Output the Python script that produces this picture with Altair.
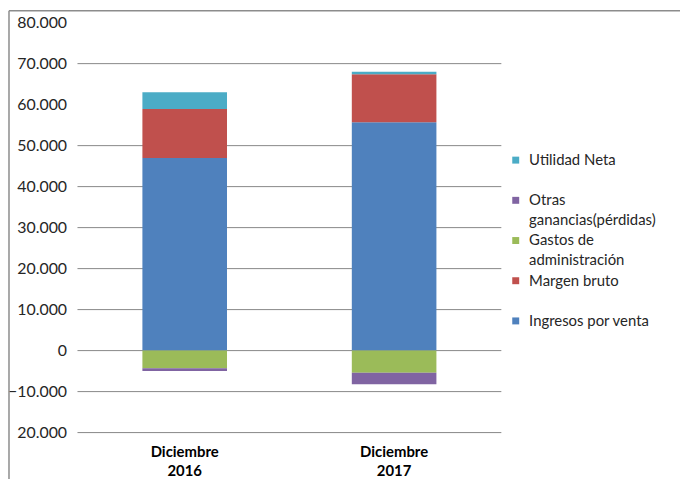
import altair as alt
import pandas as pd

periods = ["Diciembre 2016", "Diciembre 2017"]
series = ["Ingresos por venta", "Margen bruto", "Gastos de administración",
          "Otras ganancias(pérdidas)", "Utilidad Neta"]
ingresos = [47000, 55700]
margen = [11950, 11700]
gastos = [-4300, -5400]
otras = [-700, -2800]
utilidad = [4050, 650]
series_colors = ["#4F81BD", "#C0504D", "#9BBB59", "#8064A2", "#4BACC6"]
legend_order = ["Utilidad Neta", "Otras ganancias(pérdidas)", "Gastos de administración",
                "Margen bruto", "Ingresos por venta"]
y_ticks = [-20000, -10000, 0, 10000, 20000, 30000, 40000, 50000, 60000, 70000, 80000]
grid_values = [-20000, -10000, 0, 10000, 20000, 30000, 40000, 50000, 70000]

values_by_series = [ingresos, margen, gastos, otras, utilidad]
rows = []
for si, (name, vals) in enumerate(zip(series, values_by_series)):
    for p, v in zip(periods, vals):
        rows.append({"periodo": p, "serie": name, "valor": v, "orden": si})
df = pd.DataFrame(rows)
color_map = dict(zip(series, series_colors))

FONT = "Lato"
TXT = "#262626"
GRID = "#878787"

y_scale = alt.Scale(domain=[-20000, 80000], nice=False, zero=False)

label_expr = ("datum.value == -20000 ? '20.000' : "
              "replace(format(datum.value, ','), ',', '.')")
y_axis = alt.Axis(values=y_ticks, labelExpr=label_expr, grid=False,
                  domain=False, ticks=False, labelPadding=11,
                  labelFont=FONT, labelFontSize=16, labelColor=TXT)

grid = alt.Chart(pd.DataFrame({"g": grid_values})).mark_rule(
    color=GRID, strokeWidth=1
).encode(y=alt.Y("g:Q", scale=y_scale, axis=y_axis, title=None))

bars = alt.Chart(df).mark_bar().encode(
    x=alt.X("periodo:N", sort=periods, title=None,
            scale=alt.Scale(paddingInner=0.596, paddingOuter=0.31),
            axis=alt.Axis(labelAngle=0, domain=False, ticks=False,
                          labelExpr="split(datum.label, ' ')",
                          labelFont=FONT, labelFontWeight="bold", labelFontSize=15,
                          labelColor="#000000", labelLineHeight=19, labelPadding=12,
                          labelBaseline="top")),
    y=alt.Y("valor:Q", stack="zero", scale=y_scale, title=None, axis=y_axis),
    color=alt.Color("serie:N",
                    scale=alt.Scale(domain=legend_order,
                                    range=[color_map[s] for s in legend_order]),
                    legend=alt.Legend(
                        title=None, orient="none", legendX=434, legendY=131,
                        symbolType="square", symbolSize=49, symbolStrokeWidth=0,
                        labelFont=FONT, labelFontSize=15, labelColor=TXT,
                        labelOffset=6, rowPadding=4.5,
                        gridAlign="all", labelLimit=300,
                        labelExpr=("datum.label == 'Otras ganancias(pérdidas)' ? "
                                   "['Otras', 'ganancias(pérdidas)'] : "
                                   "datum.label == 'Gastos de administración' ? "
                                   "['Gastos de', 'administración'] : datum.label"))),
    order=alt.Order("orden:Q", sort="ascending"),
)

frame_top = alt.Chart(pd.DataFrame({"a": [0]})).mark_rule(color="#8c8c8c", strokeWidth=1.5).encode(
    x=alt.value(-69), x2=alt.value(620), y=alt.value(-12))
frame_left = alt.Chart(pd.DataFrame({"a": [0]})).mark_rule(color="#8c8c8c", strokeWidth=1.5).encode(
    x=alt.value(-69), y=alt.value(-12), y2=alt.value(470))

chart = alt.layer(grid, bars, frame_top, frame_left).properties(
    width=427, height=413,
    autosize=alt.AutoSizeParams(type="none"),
    padding={"left": 70, "top": 13, "right": 180, "bottom": 45},
).configure(
    background="white",
    view={"stroke": "transparent", "strokeWidth": 0},
    style={"guide-label": {"lineHeight": 20}},
)

chart.save("out.html", embed_options={"renderer": "svg", "actions": False})
